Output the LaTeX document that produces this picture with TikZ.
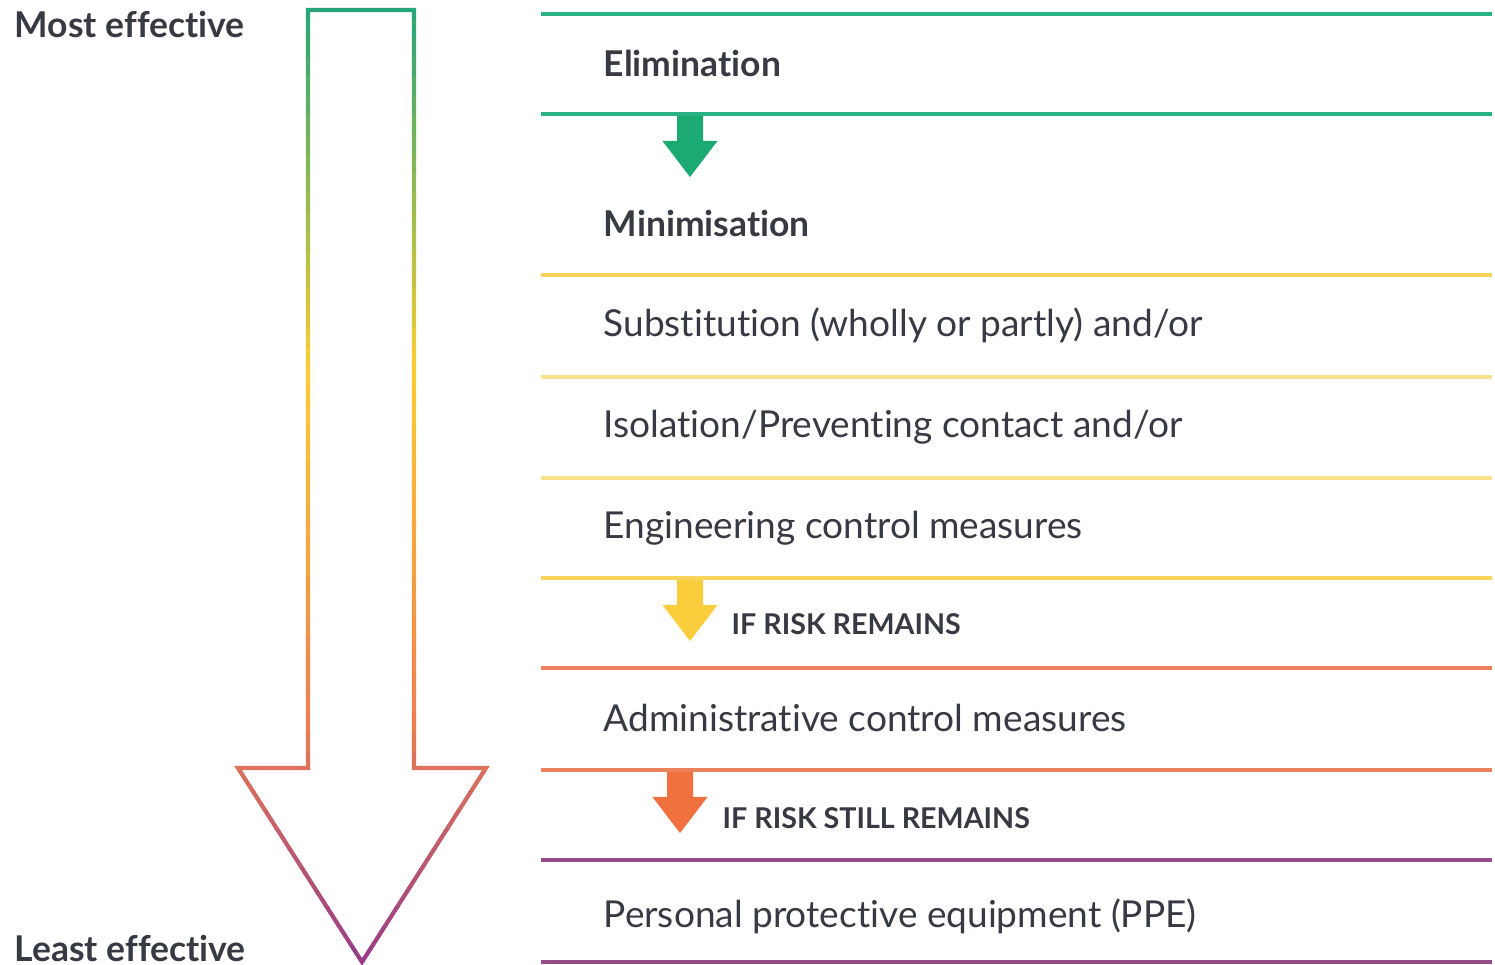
\documentclass[tikz,border=0pt]{standalone}
\usepackage{fontspec}
\setmainfont{Lato}[Ligatures=NoCommon]
\usetikzlibrary{positioning}

\definecolor{effgreen}{RGB}{38,165,120}
\definecolor{effyellow}{RGB}{250,205,50}
\definecolor{efforange}{RGB}{236,128,80}
\definecolor{effpurple}{RGB}{150,60,135}
\definecolor{linegreen}{RGB}{42,178,132}
\definecolor{lineyellow}{RGB}{248,212,90}
\definecolor{lightyellow}{RGB}{250,226,140}
\definecolor{lineorange}{RGB}{236,130,92}
\definecolor{linepurple}{RGB}{150,76,140}
\definecolor{arrgreen}{RGB}{28,170,115}
\definecolor{arryellow}{RGB}{250,205,60}
\definecolor{arrorange}{RGB}{240,112,62}
\definecolor{txtgray}{RGB}{55,58,66}

\tikzset{
  steptext/.style={anchor=base west, inner sep=0pt, text=txtgray,
    font=\fontsize{10.55}{12}\selectfont},
  headtext/.style={steptext, font=\fontsize{10.1}{12}\selectfont\bfseries},
  risktext/.style={steptext, font=\fontsize{8.15}{10}\selectfont\bfseries},
  sepline/.style={line width=1.15pt},
  bigarrow/.style={line width=0.042cm, line join=miter,
    insert path={(3.08,-0.10) -- (4.14,-0.10) -- (4.14,-7.68) -- (4.86,-7.68)
      -- (3.62,-9.62) -- (2.38,-7.68) -- (3.08,-7.68) -- cycle}},
  riskarrow/.pic={
    \fill (-0.13,0) -- (0.13,0) -- (0.13,-0.25) -- (0.275,-0.25) -- (0,-0.61)
      -- (-0.275,-0.25) -- (-0.13,-0.25) -- cycle;
  }
}

\begin{document}
\begin{tikzpicture}
  \useasboundingbox (0,0) rectangle (14.95,-9.65);

  \foreach \i in {0,...,49}{
    \pgfmathsetmacro\ytop{-\i*0.193+0.002}
    \pgfmathsetmacro\ybot{-(\i+1)*0.193-0.002}
    \pgfmathsetmacro\py{(\i+0.5)*19.3}
    \ifdim\py pt<370pt
      \pgfmathtruncatemacro\p{max(0,min(100,(370-\py)/3.6))}
      \colorlet{slicecol}{effgreen!\p!effyellow}
    \else\ifdim\py pt<720pt
      \pgfmathtruncatemacro\p{(720-\py)/3.5}
      \colorlet{slicecol}{effyellow!\p!efforange}
    \else
      \pgfmathtruncatemacro\p{max(0,(962-\py)/2.42)}
      \colorlet{slicecol}{efforange!\p!effpurple}
    \fi\fi
    \begin{scope}
      \clip (2.2,\ytop) rectangle (5.0,\ybot);
      \path[draw=slicecol, bigarrow];
    \end{scope}
  }

  \node[headtext] (most) at (0.14,-0.38) {Most effective};
  \node[headtext] (least) at (0.14,-9.61) {Least effective};

  \foreach \y/\c in {0.14/linegreen, 1.14/linegreen, 2.75/lineyellow,
      3.77/lightyellow, 4.78/lightyellow, 5.78/lineyellow, 6.68/lineorange,
      7.70/lineorange, 8.60/linepurple, 9.62/linepurple}
    \draw[sepline, \c] (5.41,-\y) -- (14.92,-\y);

  \pic[arrgreen] at (6.90,-1.16) {riskarrow};
  \pic[arryellow] at (6.90,-5.80) {riskarrow};
  \pic[arrorange] at (6.80,-7.72) {riskarrow};

  \node[headtext] (elim) at (6.03,-0.77) {Elimination};
  \node[headtext] (mini) at (6.03,-2.37) {Minimisation};
  \node[steptext] (subst) at (6.03,-3.37) {Substitution (wholly or partly) and/or};
  \node[steptext] (isol) at (6.03,-4.38) {Isolation/Preventing contact and/or};
  \node[steptext] (engin) at (6.03,-5.39) {Engineering control measures};
  \node[risktext] (risk) at (7.31,-6.35) {IF RISK REMAINS};
  \node[steptext] (admin) at (6.03,-7.32) {Administrative control measures};
  \node[risktext] (still) at (7.22,-8.28) {IF RISK STILL REMAINS};
  \node[steptext] (ppe) at (6.03,-9.27) {Personal protective equipment (PPE)};
\end{tikzpicture}
\end{document}
